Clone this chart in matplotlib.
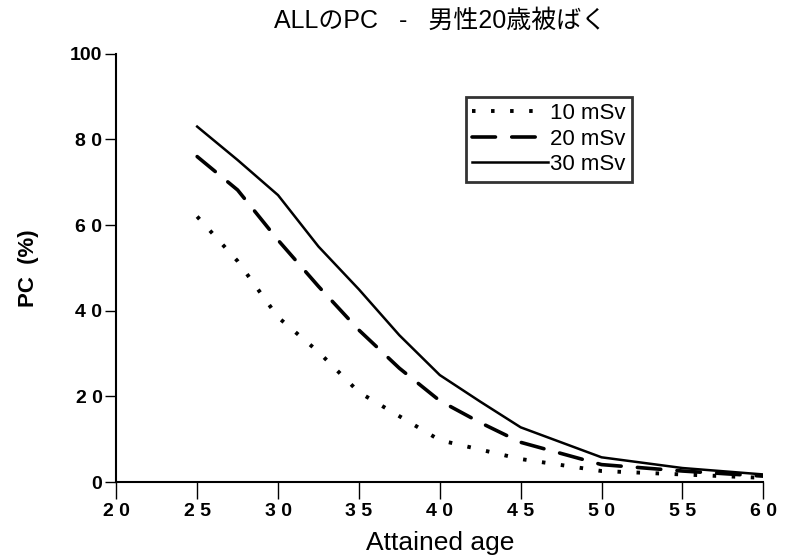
import matplotlib
matplotlib.use("Agg")
import matplotlib.pyplot as plt

plt.rcParams['font.family'] = ['Liberation Sans', 'Noto Sans CJK JP', 'DejaVu Sans']

# values
age = [25, 27.5, 30, 32.5, 35, 37.5, 40, 42.5, 45, 50, 55, 60]
pc_10 = [62, 51.6, 38.5, 30.4, 21, 15.4, 9.8, 7.6, 5.4, 2.6, 1.8, 1.0]
pc_20 = [76, 68.2, 56.5, 45.7, 35.5, 26.6, 19, 13.9, 9.3, 4.1, 2.6, 1.4]
pc_30 = [83, 75.2, 67, 55, 45, 34.3, 25, 18.8, 12.8, 5.8, 3.3, 1.8]

xticks = [20, 25, 30, 35, 40, 45, 50, 55, 60]
xlabels = ["2 0", "2 5", "3 0", "3 5", "4 0", "4 5", "5 0", "5 5", "6 0"]
yticks = [0, 20, 40, 60, 80, 100]
ylabels = ["0", "2 0", "4 0", "6 0", "8 0", "100"]

fig = plt.figure(figsize=(7.91, 5.6), dpi=100)
ax = fig.add_axes([0.147, 0.139, 0.818, 0.765])

ax.plot(age, pc_10, color="black", lw=2.8, linestyle=(0, (0.9, 4.0)),
        dash_capstyle="butt", label="10 mSv")
ax.plot(age, pc_20, color="black", lw=2.6, linestyle=(0, (6.5, 4.5)),
        dash_capstyle="round", label="20 mSv")
ax.plot(age, pc_30, color="black", lw=1.8, label="30 mSv")

ax.set_xlim(20, 60)
ax.set_ylim(0, 100)
ax.set_xticks(xticks)
ax.set_xticklabels(xlabels, fontsize=14, fontweight="bold")
ax.set_yticks(yticks)
ax.set_yticklabels(ylabels, fontsize=14, fontweight="bold")
ax.tick_params(axis="x", direction="out", length=12, width=1, pad=3)
ax.tick_params(axis="y", direction="out", length=8, width=1, pad=2)

for s in ["top", "right"]:
    ax.spines[s].set_visible(False)
ax.spines["left"].set_linewidth(1.5)
ax.spines["bottom"].set_linewidth(1.5)

ax.set_xlabel("Attained age", fontsize=19, labelpad=8)
ax.set_ylabel("PC  (%)", fontsize=16, fontweight="bold", labelpad=22)

fig.text(0.556, 0.963, "ALLのPC   -   男性20歳被ばく", fontsize=18,
         ha="center", va="center")

leg = ax.legend(loc="upper left", bbox_to_anchor=(0.54, 0.9), fontsize=16,
                frameon=True, fancybox=False, edgecolor="black",
                handlelength=3.4, handletextpad=0.1, labelspacing=0.2,
                borderpad=0.3, borderaxespad=0)
leg.get_frame().set_linewidth(2.0)

fig.savefig("out.png", dpi=100)
